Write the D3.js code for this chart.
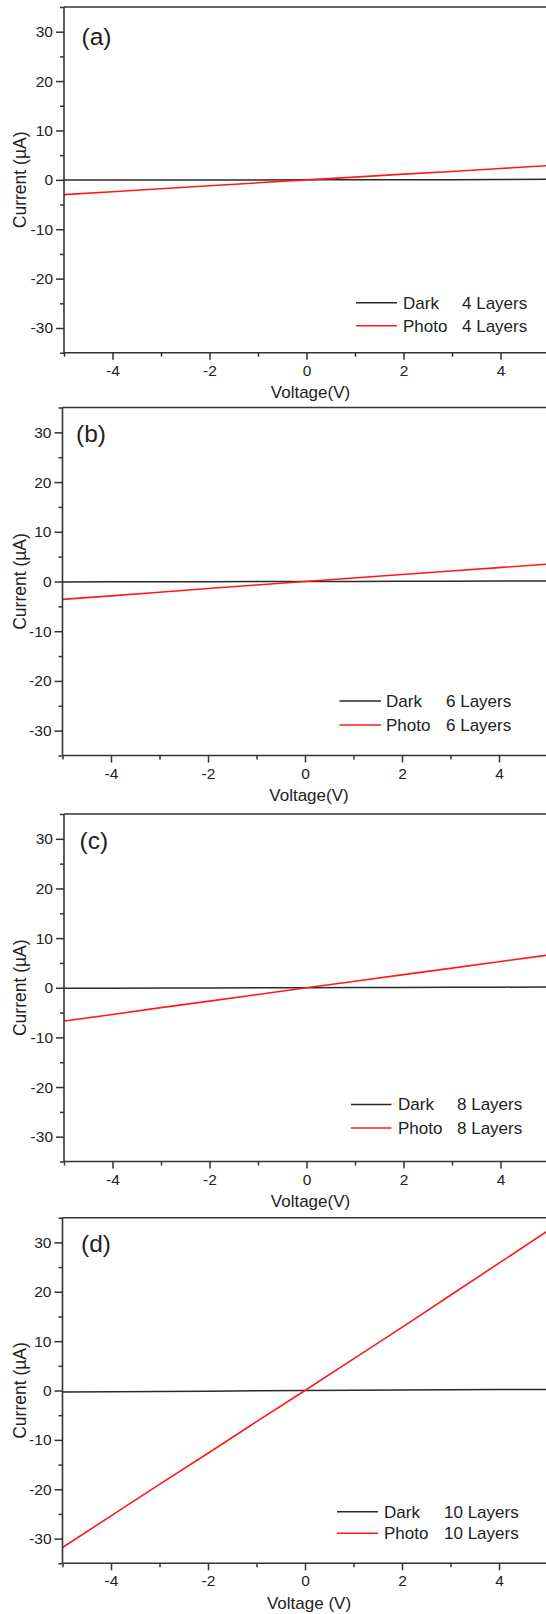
<!DOCTYPE html>
<html><head><meta charset="utf-8">
<script src="https://cdn.jsdelivr.net/npm/d3@7"></script>
<style>body{margin:0;background:#fff} svg{display:block}</style>
</head><body><svg id="c" width="546" height="1614"></svg>
<script>
// ---------- data ----------
const voltage = [-5, -4, -3, -2, -1, 0, 1, 2, 3, 4, 5];
const panelLabels = ["(a)", "(b)", "(c)", "(d)"];
const seriesNames = ["Dark", "Photo"];
const layerLabels = ["4 Layers", "6 Layers", "8 Layers", "10 Layers"];
const xTitles = ["Voltage(V)", "Voltage(V)", "Voltage(V)", "Voltage (V)"];
const yTitle = "Current (\u00B5A)";
const xMajorTicks = [-4, -2, 0, 2, 4];
const xMinorTicks = [-5, -3, -1, 1, 3, 5];
const yMajorTicks = [-30, -20, -10, 0, 10, 20, 30];
const yMinorTicks = [-35, -25, -15, -5, 5, 15, 25, 35];

const darkA  = [-0.05, -0.04, -0.03, -0.02, -0.01, 0, 0.01, 0.02, 0.04, 0.07, 0.10];
const photoA = [-3.0, -2.4, -1.8, -1.2, -0.6, 0, 0.55, 1.15, 1.7, 2.3, 2.9];
const darkB  = [-0.08, -0.06, -0.05, -0.03, -0.01, 0, 0.02, 0.04, 0.06, 0.09, 0.12];
const photoB = [-3.6, -2.9, -2.15, -1.4, -0.7, 0, 0.7, 1.4, 2.1, 2.8, 3.5];
const darkC  = [-0.1, -0.08, -0.06, -0.04, -0.02, 0, 0.03, 0.06, 0.09, 0.12, 0.15];
const photoC = [-6.7, -5.4, -4.0, -2.7, -1.35, 0, 1.3, 2.65, 3.95, 5.3, 6.6];
const darkD  = [-0.3, -0.27, -0.22, -0.14, -0.05, 0, 0.06, 0.12, 0.16, 0.2, 0.22];
const photoD = [-31.8, -25.4, -19.0, -12.7, -6.3, 0, 6.4, 12.8, 19.3, 25.8, 32.3];

const darkSeries = [darkA, darkB, darkC, darkD];
const photoSeries = [photoA, photoB, photoC, photoD];

// ---------- layout ----------
const frames = [
  {left: 64,   top: 7,      bottom: 352.7,  lx: 81.5, ly: 45},
  {left: 62.5, top: 407.5,  bottom: 755.5,  lx: 76,   ly: 442},
  {left: 64,   top: 814,    bottom: 1161.5, lx: 79.5, ly: 849},
  {left: 62.5, top: 1217.7, bottom: 1563.3, lx: 81,   ly: 1252}
];
const legends = [
  {x0: 356, x1: 397, tx: 403, lx: 462, y0: 302.7, y1: 325.7},
  {x0: 339.5, x1: 381, tx: 386, lx: 446, y0: 701, y1: 725},
  {x0: 351, x1: 391.5, tx: 398, lx: 457, y0: 1104.5, y1: 1128},
  {x0: 337, x1: 378, tx: 384, lx: 444, y0: 1511.7, y1: 1533.3}
];
const plotWidth = 485;
const axisColor = "#333";
const textColor = "#222";
const font = "'Liberation Sans', Arial, sans-serif";
const fmt = d => String(d);

const svg = d3.select("#c");

frames.forEach((f, i) => {
  const x = d3.scaleLinear().domain([-5, 5]).range([f.left, f.left + plotWidth]);
  const y = d3.scaleLinear().domain([-35, 35]).range([f.bottom, f.top]);
  const g = svg.append("g");

  // data lines
  const line = d3.line().x((d, k) => x(voltage[k])).y(d => y(d));
  g.append("path").datum(darkSeries[i]).attr("d", line)
    .attr("fill", "none").attr("stroke", "#2a2a2a").attr("stroke-width", 1.5);
  g.append("path").datum(photoSeries[i]).attr("d", line)
    .attr("fill", "none").attr("stroke", "#ff1a1a").attr("stroke-width", 1.6);

  // axes
  const styleAxis = sel => {
    sel.select(".domain").remove();
    sel.selectAll("line").attr("stroke", axisColor).attr("stroke-width", 1.5);
    sel.selectAll("text").attr("fill", textColor).style("font-family", font).style("font-size", "15.5px");
  };
  g.append("g").attr("transform", `translate(0,${f.bottom})`)
    .call(d3.axisBottom(x).tickValues(xMinorTicks).tickSize(4).tickFormat(""))
    .call(styleAxis);
  g.append("g").attr("transform", `translate(0,${f.bottom})`)
    .call(d3.axisBottom(x).tickValues(xMajorTicks).tickSize(7).tickPadding(5).tickFormat(fmt))
    .call(styleAxis);
  g.append("g").attr("transform", `translate(${f.left},0)`)
    .call(d3.axisLeft(y).tickValues(yMinorTicks).tickSize(4).tickFormat(""))
    .call(styleAxis);
  g.append("g").attr("transform", `translate(${f.left},0)`)
    .call(d3.axisLeft(y).tickValues(yMajorTicks).tickSize(8).tickPadding(3).tickFormat(fmt))
    .call(styleAxis);

  // frame lines
  const frameLine = (x1, y1, x2, y2) => g.append("line")
    .attr("x1", x1).attr("y1", y1).attr("x2", x2).attr("y2", y2)
    .attr("stroke", axisColor).attr("stroke-width", 1.6);
  frameLine(f.left, f.top, f.left, f.bottom);
  frameLine(f.left, f.bottom, f.left + plotWidth, f.bottom);
  frameLine(f.left, f.top, f.left + plotWidth, f.top);
  frameLine(f.left + plotWidth, f.top, f.left + plotWidth, f.bottom);

  // panel label
  g.append("text").attr("x", f.lx).attr("y", f.ly)
    .attr("fill", textColor).style("font-family", font).style("font-size", "24.5px").text(panelLabels[i]);

  // axis titles
  g.append("text").attr("x", x(0) + 4).attr("y", f.bottom + 45.5).attr("text-anchor", "middle")
    .attr("fill", textColor).style("font-family", font).style("font-size", "17px").text(xTitles[i]);
  g.append("text").attr("transform", `translate(25.5,${y(0)}) rotate(-90)`).attr("text-anchor", "middle")
    .attr("fill", textColor).style("font-family", font).style("font-size", "17.5px").text(yTitle);

  // legend
  const L = legends[i];
  [[L.y0, "#2a2a2a"], [L.y1, "#ff1a1a"]].forEach(([ly, c], k) => {
    g.append("line").attr("x1", L.x0).attr("x2", L.x1).attr("y1", ly).attr("y2", ly)
      .attr("stroke", c).attr("stroke-width", 1.5);
    g.append("text").attr("x", L.tx).attr("y", ly).attr("dy", "0.35em")
      .attr("fill", textColor).style("font-family", font).style("font-size", "17px").text(seriesNames[k]);
    g.append("text").attr("x", L.lx).attr("y", ly).attr("dy", "0.35em")
      .attr("fill", textColor).style("font-family", font).style("font-size", "17px").text(layerLabels[i]);
  });
});
</script></body></html>
